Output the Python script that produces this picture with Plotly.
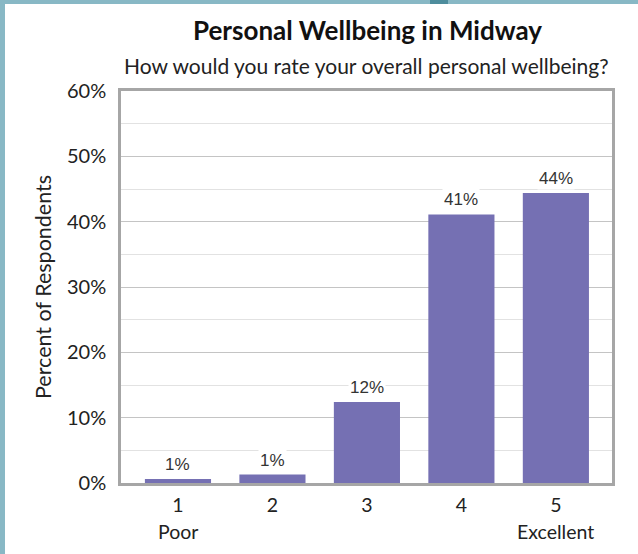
import plotly.graph_objects as go

categories = [1, 2, 3, 4, 5]
tick_labels = ["1", "2", "3", "4", "5"]
end_labels = {1: "Poor", 5: "Excellent"}
values = [0.6, 1.3, 12.4, 41.1, 44.4]
value_labels = ["1%", "1%", "12%", "41%", "44%"]
y_ticks = [0, 10, 20, 30, 40, 50, 60]
y_tick_labels = ["0%", "10%", "20%", "30%", "40%", "50%", "60%"]

BAR = "#7570b3"
TEAL = "#88b8c5"
AXIS_FONT = "Lato"
L, R, T, B = 121, 26, 91, 71
W, H = 638, 554
PW, PH = W - L - R, H - T - B

fig = go.Figure()
fig.add_trace(go.Bar(x=categories, y=values, marker=dict(color=BAR, line=dict(width=0)),
                     width=0.70, hoverinfo="skip"))

for c, v, t in zip(categories, values, value_labels):
    fig.add_annotation(x=c, y=v, text=t, showarrow=False, yanchor="bottom", yshift=3,
                       bgcolor="white", borderpad=1,
                       font=dict(family="Liberation Sans", size=17, color="#333333"))

def px_x(p):
    return (p - L) / PW

def px_y(p):
    return (H - B - p) / PH

for c, t in end_labels.items():
    fig.add_annotation(x=c, xref="x", yref="paper", y=px_y(531), text=t, showarrow=False,
                       xanchor="center", yanchor="middle",
                       font=dict(family=AXIS_FONT, size=19.5, color="#222222"))

fig.add_annotation(xref="paper", yref="paper", x=px_x(367), y=px_y(30), text="<b>Personal Wellbeing in Midway</b>",
                   showarrow=False, xanchor="center", yanchor="middle",
                   font=dict(family=AXIS_FONT, size=26, color="#111111"))
fig.add_annotation(xref="paper", yref="paper", x=px_x(366), y=px_y(65),
                   text="How would you rate your overall personal wellbeing?",
                   showarrow=False, xanchor="center", yanchor="middle",
                   font=dict(family=AXIS_FONT, size=21, color="#222222"))
fig.add_annotation(xref="paper", yref="paper", x=px_x(43), y=px_y(287), text="Percent of Respondents",
                   showarrow=False, textangle=-90, xanchor="center", yanchor="middle",
                   font=dict(family=AXIS_FONT, size=21.5, color="#222222"))

# decorative frame
fig.add_shape(type="rect", xref="paper", yref="paper", x0=px_x(0), x1=px_x(5), y0=px_y(H), y1=px_y(0),
              fillcolor=TEAL, line=dict(width=0), layer="above")
fig.add_shape(type="rect", xref="paper", yref="paper", x0=px_x(0), x1=px_x(W), y0=px_y(4), y1=px_y(0),
              fillcolor=TEAL, line=dict(width=0), layer="above")
fig.add_shape(type="rect", xref="paper", yref="paper", x0=px_x(430), x1=px_x(448), y0=px_y(4), y1=px_y(0),
              fillcolor="#4e8d9d", line=dict(width=0), layer="above")

fig.update_layout(
    width=W, height=H,
    margin=dict(l=L, r=R, t=T, b=B, autoexpand=False),
    paper_bgcolor="white", plot_bgcolor="white",
    showlegend=False,
)
fig.update_xaxes(range=[0.397, 5.594], tickmode="array", tickvals=categories, ticktext=tick_labels,
                 showgrid=False, showline=True, linecolor="#a6a6a6", linewidth=2.5, mirror=True,
                 ticks="", zeroline=False, ticklabelstandoff=3,
                 tickfont=dict(family=AXIS_FONT, size=19.5, color="#222222"))
fig.update_yaxes(range=[0, 60], tickmode="array", tickvals=y_ticks, ticktext=y_tick_labels,
                 showgrid=True, gridcolor="#c4c4c4", gridwidth=1,
                 minor=dict(dtick=5, tick0=0, showgrid=True, gridcolor="#e2e2e2", gridwidth=1),
                 showline=True, linecolor="#a6a6a6", linewidth=2.5, mirror=True,
                 ticks="", zeroline=False, ticklabelstandoff=8,
                 tickfont=dict(family=AXIS_FONT, size=20, color="#222222"))

fig.write_html("out.html", config={"displayModeBar": False},
               post_script="document.body.style.margin='0';document.body.style.overflow='hidden';")
